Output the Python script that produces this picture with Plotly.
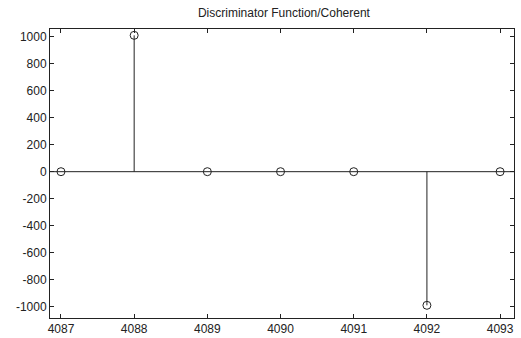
import plotly.graph_objects as go

x_vals = [4087, 4088, 4089, 4090, 4091, 4092, 4093]
y_vals = [0, 1010, 0, 0, 0, -990, 0]
y_ticks = [1000, 800, 600, 400, 200, 0, -200, -400, -600, -800, -1000]
title = "Discriminator Function/Coherent"

stem_x, stem_y = [], []
for xv, yv in zip(x_vals, y_vals):
    stem_x += [xv, xv, None]
    stem_y += [0, yv, None]

fig = go.Figure()
fig.add_trace(go.Scatter(x=[4086.8, 4093.3], y=[0, 0], mode="lines",
                         line=dict(color="#222", width=1), hoverinfo="skip"))
fig.add_trace(go.Scatter(x=stem_x, y=stem_y, mode="lines",
                         line=dict(color="#222", width=1), hoverinfo="skip"))
fig.add_trace(go.Scatter(x=x_vals, y=y_vals, mode="markers",
                         marker=dict(symbol="circle-open", size=8, color="#222",
                                     line=dict(width=1))))

fig.update_layout(
    width=521, height=338,
    margin=dict(l=50, r=7, t=29, b=20),
    paper_bgcolor="white", plot_bgcolor="white",
    showlegend=False,
    title=dict(text=title, x=0.545, xanchor="center", y=0.975, yanchor="top",
               font=dict(family="Arial, Liberation Sans", size=12, color="#222")),
    font=dict(family="Arial, Liberation Sans", size=12, color="#222"),
)
fig.update_xaxes(range=[4086.85, 4093.19], tickvals=x_vals,
                 ticktext=[str(v) for v in x_vals], automargin=False,
                 showgrid=False, zeroline=False, showline=True, linecolor="#222",
                 linewidth=1, mirror="ticks", ticks="inside", ticklen=4,
                 tickcolor="#222")
fig.update_yaxes(range=[-1084, 1057], tickvals=y_ticks,
                 ticktext=[str(v) for v in y_ticks], automargin=False,
                 showgrid=False, zeroline=False, showline=True, linecolor="#222",
                 linewidth=1, mirror="ticks", ticks="inside", ticklen=4,
                 tickcolor="#222")

fig.write_html("out.html")
